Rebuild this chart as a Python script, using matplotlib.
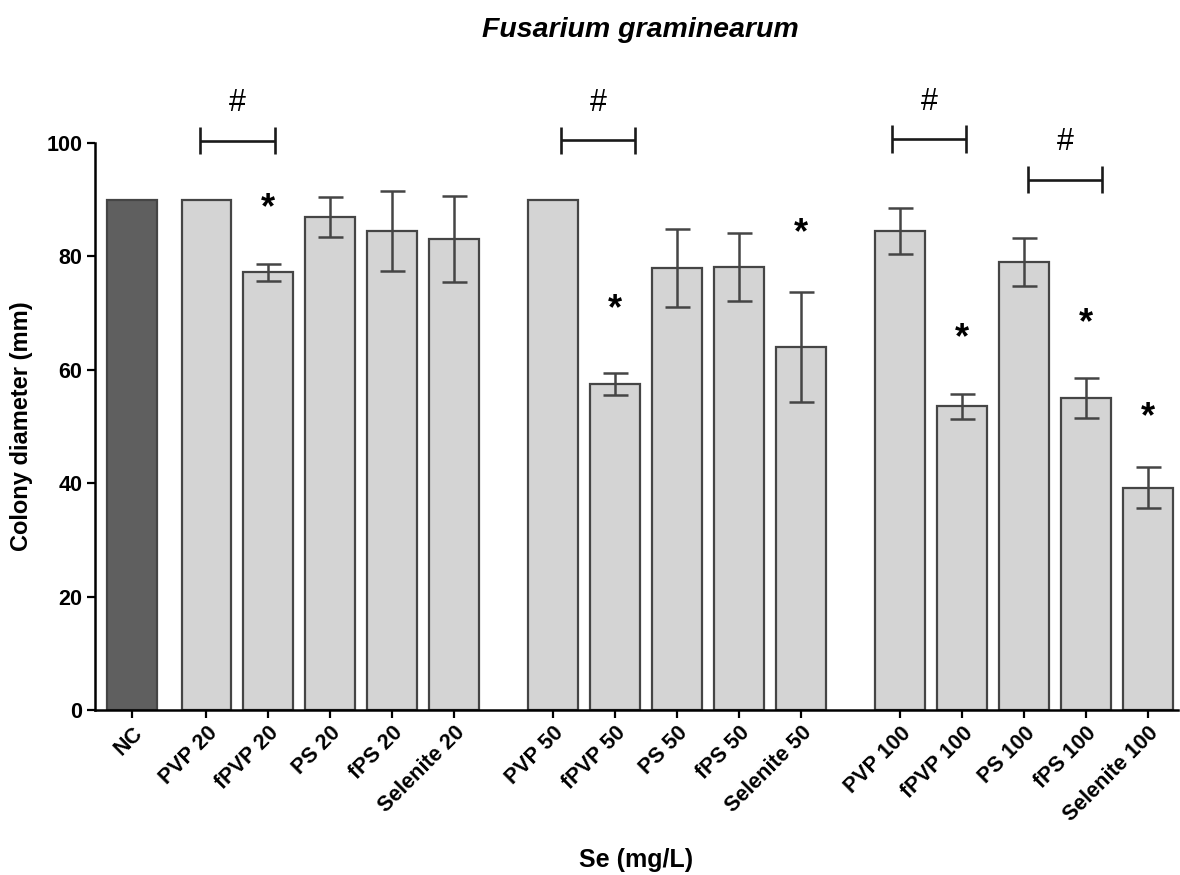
import matplotlib
matplotlib.use("Agg")
import matplotlib.pyplot as plt
import numpy as np

plt.rcParams['font.family'] = ['Liberation Sans', 'DejaVu Sans']
plt.rcParams['font.weight'] = 'bold'

# ---- data ----
categories = ["NC", "PVP 20", "fPVP 20", "PS 20", "fPS 20", "Selenite 20",
              "PVP 50", "fPVP 50", "PS 50", "fPS 50", "Selenite 50",
              "PVP 100", "fPVP 100", "PS 100", "fPS 100", "Selenite 100"]
means = [90.0, 90.0, 77.2, 87.0, 84.5, 83.1,
         90.0, 57.5, 78.0, 78.1, 64.0,
         84.5, 53.6, 79.0, 55.0, 39.2]
sds = [0.0, 0.0, 1.5, 3.5, 7.1, 7.6,
       0.0, 2.0, 6.9, 6.0, 9.7,
       4.0, 2.2, 4.2, 3.5, 3.6]
groups = [0, 1, 1, 1, 1, 1, 2, 2, 2, 2, 2, 3, 3, 3, 3, 3]

# significance stars (category index, height of star centre)
star_idx = [2, 7, 10, 12, 14, 15]
star_y = [89.4, 71.6, 85.0, 66.5, 69.1, 52.5]

# "#" brackets: (first category index, second index, bracket height)
bracket_pairs = [(1, 2), (6, 7), (11, 12), (13, 14)]
bracket_y = [100.4, 100.5, 100.7, 93.5]
bracket_shift = [0.0, 0.226, -0.03, 0.16]

# ---- positions ----
group_gap = {0: 0.0, 1: 0.2, 2: 0.8, 3: 1.4}
x = np.array([i + group_gap[g] for i, g in enumerate(groups)])
bar_w = 0.806

fig = plt.figure(figsize=(11.8, 8.75), dpi=100)
ax = fig.add_axes([0.0805, 0.1886, 0.9175, 0.648])

colors = ['#5f5f5f' if c == "NC" else '#d4d4d4' for c in categories]
ax.bar(x, means, width=bar_w, color=colors, edgecolor='#454545', linewidth=1.6, zorder=2)

mask = np.array(sds) > 0
ax.errorbar(x[mask], np.array(means)[mask], yerr=np.array(sds)[mask], fmt='none',
            ecolor='#454545', elinewidth=1.8, capsize=9, capthick=1.8, zorder=3)

star_fs = 26
star_off = 0.41 * star_fs * 100 / 72 / 5.67  # glyph centre above baseline, in data units
for i, yv in zip(star_idx, star_y):
    ax.text(x[i], yv - star_off, "*", ha='center', va='baseline', fontsize=star_fs,
            fontweight='bold', color='black', zorder=4)

for (a, b), yv, s in zip(bracket_pairs, bracket_y, bracket_shift):
    x0 = x[a] - 0.1 + s
    x1 = x[b] + 0.1 + s
    kw = dict(color='#1a1a1a', lw=1.9, clip_on=False, solid_capstyle='butt')
    ax.plot([x0, x1], [yv, yv], **kw)
    ax.plot([x0, x0], [yv - 2.4, yv + 2.4], **kw)
    ax.plot([x1, x1], [yv - 2.4, yv + 2.4], **kw)
    ax.text((x0 + x1) / 2, yv + 6.6, "#", ha='center', va='center', fontsize=22,
            fontweight='normal', color='black')

ax.set_ylim(0, 100)
ax.set_xlim(-0.6, x[-1] + 0.48)
ax.set_yticks([0, 20, 40, 60, 80, 100])
ax.set_xticks(x)
ax.set_xticklabels(categories, rotation=45, ha='right', rotation_mode='anchor',
                   fontsize=15.5, fontweight='bold')
for lab in ax.get_yticklabels():
    lab.set_fontsize(15.5)
    lab.set_fontweight('bold')

for s in ['top', 'right']:
    ax.spines[s].set_visible(False)
for s in ['left', 'bottom']:
    ax.spines[s].set_linewidth(1.8)
    ax.spines[s].set_color('black')
ax.tick_params(axis='both', length=6, width=1.6, color='black', pad=3)

ax.set_ylabel("Colony diameter (mm)", fontsize=17, fontweight='bold')
ax.yaxis.set_label_coords(-0.057, 0.5)
ax.set_xlabel("Se (mg/L)", fontsize=18, fontweight='bold', va='center')
ax.xaxis.set_label_coords(0.5, -0.2646)
fig.text(0.5424, 0.966, "Fusarium graminearum", ha='center', va='center',
         fontsize=20.5, fontweight='bold', fontstyle='italic')

fig.savefig("out.png", dpi=100)
